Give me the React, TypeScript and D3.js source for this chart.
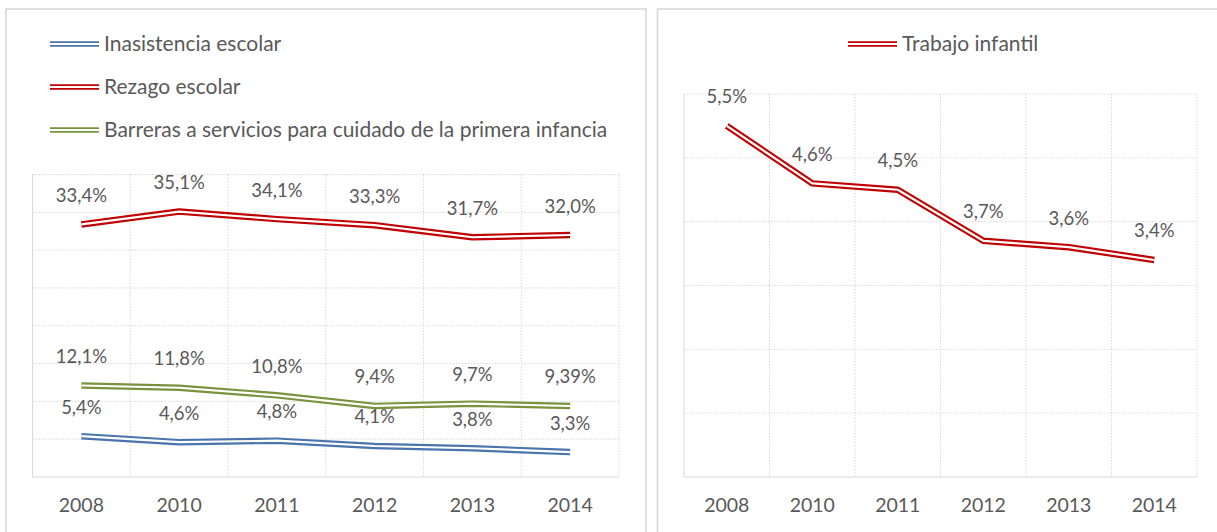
import React from 'react';
import * as d3 from 'd3';

const years = ['2008', '2010', '2011', '2012', '2013', '2014'];
const inasistencia = [5.4, 4.6, 4.8, 4.1, 3.8, 3.3];
const rezago = [33.4, 35.1, 34.1, 33.3, 31.7, 32.0];
const barreras = [12.1, 11.8, 10.8, 9.4, 9.7, 9.39];
const trabajo = [5.5, 4.6, 4.5, 3.7, 3.6, 3.4];
const leftTicks = [0, 5, 10, 15, 20, 25, 30, 35, 40];
const rightTicks = [0, 1, 2, 3, 4, 5, 6];
const leftLegend = ['Inasistencia escolar', 'Rezago escolar', 'Barreras a servicios para cuidado de la primera infancia'];
const rightLegend = ['Trabajo infantil'];

const RED = '#C00000';
const BLUE = '#4A74AC';
const GREEN = '#77933C';
const TEXT = '#595959';
const GRID = '#d9d9d9';
const FONT = 'Lato, "Noto Sans", sans-serif';

const fmt = (v: number) =>
  (Math.abs(v * 10 - Math.round(v * 10)) < 1e-9 ? v.toFixed(1) : v.toFixed(2)).replace('.', ',') + '%';

type Series = { values: number[]; color: string };

function Panel({
  x0, x1, y0, y1, max, ticks, series,
}: { x0: number; x1: number; y0: number; y1: number; max: number; ticks: number[]; series: Series[] }) {
  const x = d3.scaleBand<string>().domain(years).range([x0, x1]).padding(0);
  const y = d3.scaleLinear().domain([0, max]).range([y1, y0]);
  const cx = (d: string) => (x(d) as number) + x.bandwidth() / 2;
  const line = d3.line<number>().x((_, i) => cx(years[i])).y((v) => y(v));
  const bounds = years.map((d) => x(d) as number).concat([x1]);
  return (
    <g>
      {ticks.filter((t) => t > 0).map((t) => (
        <line key={'h' + t} x1={x0} x2={x1} y1={y(t)} y2={y(t)} stroke={GRID} strokeWidth={1} strokeDasharray="1.5,1.5" />
      ))}
      {bounds.slice(1).map((b, i) => (
        <line key={'v' + i} x1={b} x2={b} y1={y0} y2={y1} stroke={GRID} strokeWidth={1} strokeDasharray="1.5,1.5" />
      ))}
      <line x1={x0} x2={x0} y1={y0} y2={y1} stroke={GRID} strokeWidth={1} />
      <line x1={x0} x2={x1} y1={y1} y2={y1} stroke={GRID} strokeWidth={1.2} />
      {years.map((d) => (
        <text key={'x' + d} x={cx(d)} y={y1 + 35} textAnchor="middle" fontSize={19.5} fill={TEXT} fontFamily={FONT}>{d}</text>
      ))}
      {series.map((s, si) => (
        <g key={'s' + si}>
          <path d={line(s.values) as string} fill="none" stroke={s.color} strokeWidth={6.5} strokeLinejoin="round" />
          <path d={line(s.values) as string} fill="none" stroke="#fff" strokeWidth={2.2} strokeLinejoin="round" />
        </g>
      ))}
      {series.map((s, si) => (
        <g key={'l' + si}>
          {s.values.map((v, i) => (
            <text key={i} x={cx(years[i])} y={y(v) - 22.5} textAnchor="middle" fontSize={18.5} fill={TEXT} fontFamily={FONT}>{fmt(v)}</text>
          ))}
        </g>
      ))}
    </g>
  );
}

function LegendItem({ x, y, color, label }: { x: number; y: number; color: string; label: string }) {
  return (
    <g>
      <line x1={x} x2={x + 49} y1={y} y2={y} stroke={color} strokeWidth={5.5} />
      <line x1={x} x2={x + 49} y1={y} y2={y} stroke="#fff" strokeWidth={1.8} />
      <text x={x + 54} y={y + 7} fontSize={21} fill={TEXT} fontFamily={FONT}>{label}</text>
    </g>
  );
}

export default function App() {
  const leftColors = [BLUE, RED, GREEN];
  return (
    <div style={{ position: 'absolute', left: 0, top: 0 }}>
      <svg width={1217} height={532} style={{ display: 'block', background: '#fff' }}>
        <rect x={6} y={9} width={640} height={600} fill="#fff" stroke={GRID} strokeWidth={1.6} />
        <rect x={657.5} y={9} width={620} height={600} fill="#fff" stroke={GRID} strokeWidth={1.6} />
        {leftLegend.map((l, i) => (
          <LegendItem key={l} x={50} y={44 + i * 43} color={leftColors[i]} label={l} />
        ))}
        {rightLegend.map((l) => (
          <LegendItem key={l} x={848} y={44} color={RED} label={l} />
        ))}
        <Panel x0={32.5} x1={619} y0={174.5} y1={477} max={40} ticks={leftTicks}
          series={[{ values: rezago, color: RED }, { values: barreras, color: GREEN }, { values: inasistencia, color: BLUE }]} />
        <Panel x0={684} x1={1197} y0={94} y1={477} max={6} ticks={rightTicks}
          series={[{ values: trabajo, color: RED }]} />
      </svg>
    </div>
  );
}
